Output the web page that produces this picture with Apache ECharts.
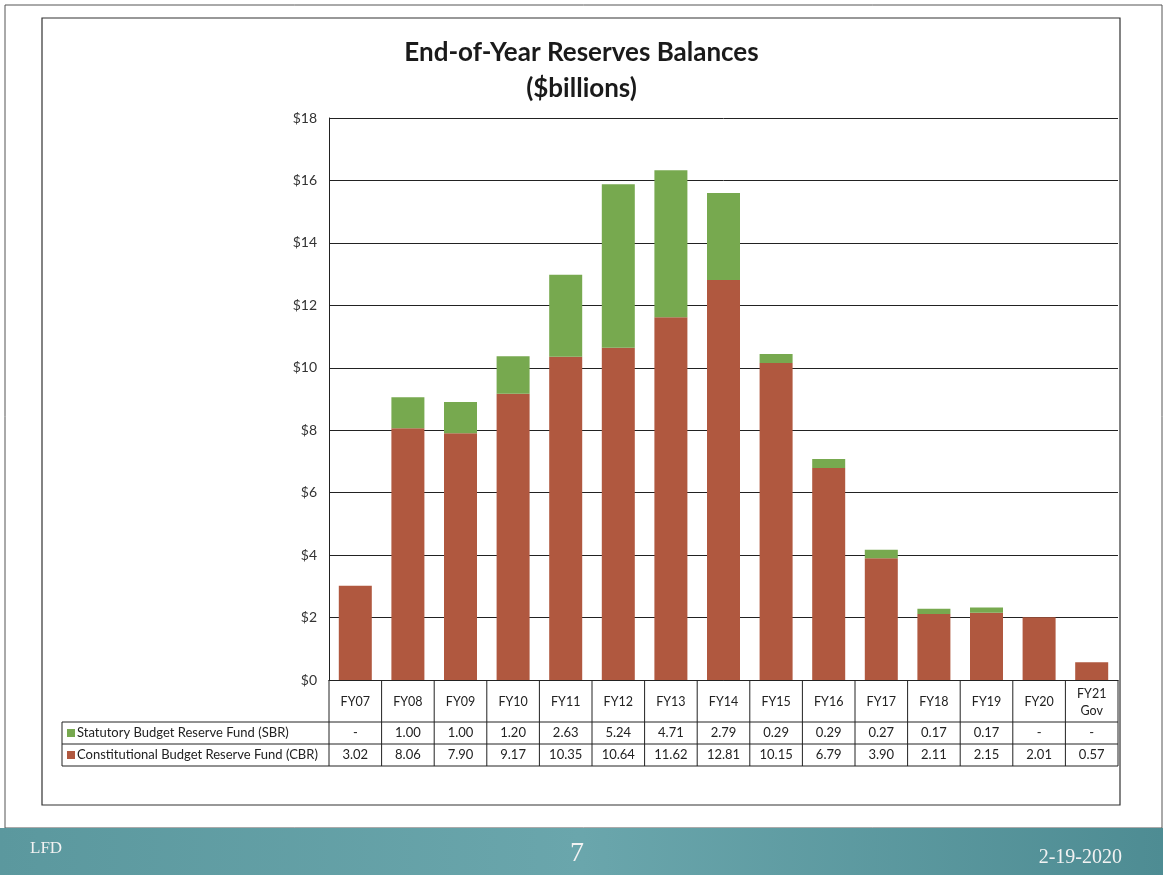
<!DOCTYPE html>
<html>
<head>
<meta charset="utf-8">
<script src="https://cdn.jsdelivr.net/npm/echarts@6/dist/echarts.min.js"></script>
<style>
html,body{margin:0;padding:0;background:#fff;}
#main{width:1163px;height:875px;}
</style>
</head>
<body>
<div id="main"></div>
<script>
const categories = ['FY07','FY08','FY09','FY10','FY11','FY12','FY13','FY14','FY15','FY16','FY17','FY18','FY19','FY20','FY21\nGov'];
const sbrValues = [null,1.00,1.00,1.20,2.63,5.24,4.71,2.79,0.29,0.29,0.27,0.17,0.17,null,null];
const cbrValues = [3.02,8.06,7.90,9.17,10.35,10.64,11.62,12.81,10.15,6.79,3.90,2.11,2.15,2.01,0.57];
const sbrName = 'Statutory Budget Reserve Fund (SBR)';
const cbrName = 'Constitutional Budget Reserve Fund (CBR)';
const yTicks = [0,2,4,6,8,10,12,14,16,18];

const GREEN = '#77a94f';
const BROWN = '#b0583f';
const FONT = 'Lato, "Open Sans", sans-serif';

const chart = echarts.init(document.getElementById('main'));
const gridLeft = 329, gridRight = 45, gridTop = 118, gridBottom = 195;

chart.setOption({
  animation: false,
  backgroundColor: '#fff',
  title: {
    text: 'End-of-Year Reserves Balances\n($billions)',
    left: 'center', top: 30,
    textStyle: {fontFamily: FONT, fontSize: 26, fontWeight: 'bold', color: '#1a1a1a', lineHeight: 36}
  },
  grid: {left: gridLeft, right: gridRight, top: gridTop, bottom: gridBottom, containLabel: false},
  xAxis: {
    type: 'category', data: categories,
    axisLine: {show: true, lineStyle: {color: '#222', width: 1}},
    axisTick: {show: false},
    axisLabel: {fontFamily: FONT, fontSize: 12.5, color: '#222', margin: 22, verticalAlign: 'middle', lineHeight: 17}
  },
  yAxis: {
    type: 'value', min: yTicks[0], max: yTicks[yTicks.length-1], interval: 2,
    axisLine: {show: true, lineStyle: {color: '#222', width: 1}},
    axisTick: {show: false},
    splitLine: {lineStyle: {color: '#222', width: 1}},
    axisLabel: {fontFamily: FONT, fontSize: 14, color: '#333', margin: 12, formatter: v => '$' + v}
  },
  series: [
    {name: cbrName, type: 'bar', stack: 'r', data: cbrValues, barWidth: 33, itemStyle: {color: BROWN}},
    {name: sbrName, type: 'bar', stack: 'r', data: sbrValues.map(v => v == null ? 0 : v), barWidth: 33, itemStyle: {color: GREEN}}
  ]
});

function buildGraphics() {
  const g = [];
  g.push({type: 'rect', shape: {x: 5, y: 5, width: 1157, height: 823}, style: {fill: 'none', stroke: '#555', lineWidth: 1}, z: -10});
  g.push({type: 'rect', shape: {x: 42, y: 18, width: 1078, height: 787}, style: {fill: 'none', stroke: '#333', lineWidth: 1.2}, z: -5});
  g.push({type: 'rect', shape: {x: 0, y: 828, width: 1163, height: 47},
    style: {fill: new echarts.graphic.LinearGradient(0, 0, 1, 0, [{offset: 0, color: '#5b989e'}, {offset: 0.5, color: '#6aa6ac'}, {offset: 1, color: '#4e8c93'}])}});
  g.push({type: 'text', x: 30, y: 849, style: {text: 'LFD', font: '17px "Liberation Serif", serif', fill: '#f2f2f2', verticalAlign: 'middle'}});
  g.push({type: 'text', x: 577, y: 854, style: {text: '7', font: '28px "Liberation Serif", serif', fill: '#f2f2f2', align: 'center', verticalAlign: 'middle'}});
  g.push({type: 'text', x: 1122, y: 858, style: {text: '2-19-2020', font: '20px "Liberation Serif", serif', fill: '#f2f2f2', align: 'right', verticalAlign: 'middle'}});

  const y0 = chart.convertToPixel({yAxisIndex: 0}, 0);
  const plotL = gridLeft, plotR = 1163 - gridRight;
  const n = categories.length;
  const colW = (plotR - plotL) / n;
  const rowH = 722, rowS = 744, rowE = 766, legL = 62;
  const ls = {stroke: '#222', lineWidth: 1};
  g.push({type: 'line', shape: {x1: legL, y1: rowH, x2: plotR, y2: rowH}, style: ls});
  g.push({type: 'line', shape: {x1: legL, y1: rowS, x2: plotR, y2: rowS}, style: ls});
  g.push({type: 'line', shape: {x1: legL, y1: rowE, x2: plotR, y2: rowE}, style: ls});
  g.push({type: 'line', shape: {x1: legL, y1: rowH, x2: legL, y2: rowE}, style: ls});
  for (let i = 0; i <= n; i++) {
    const x = plotL + i * colW;
    g.push({type: 'line', shape: {x1: x, y1: y0, x2: x, y2: rowE}, style: ls});
  }
  g.push({type: 'rect', shape: {x: 67, y: (rowH + rowS) / 2 - 4, width: 8, height: 8}, style: {fill: GREEN}});
  g.push({type: 'text', x: 77, y: (rowH + rowS) / 2, style: {text: sbrName, font: '13px ' + FONT, fill: '#222', verticalAlign: 'middle'}});
  g.push({type: 'rect', shape: {x: 67, y: (rowS + rowE) / 2 - 4, width: 8, height: 8}, style: {fill: BROWN}});
  g.push({type: 'text', x: 77, y: (rowS + rowE) / 2, style: {text: cbrName, font: '13px ' + FONT, fill: '#222', verticalAlign: 'middle'}});
  for (let i = 0; i < n; i++) {
    const cx = chart.convertToPixel({xAxisIndex: 0}, i);
    const s = sbrValues[i], c = cbrValues[i];
    g.push({type: 'text', x: cx, y: (rowH + rowS) / 2, style: {text: s == null ? '-' : s.toFixed(2), font: '13px ' + FONT, fill: '#222', align: 'center', verticalAlign: 'middle'}});
    g.push({type: 'text', x: cx, y: (rowS + rowE) / 2, style: {text: c == null ? '-' : c.toFixed(2), font: '13px ' + FONT, fill: '#222', align: 'center', verticalAlign: 'middle'}});
  }
  chart.setOption({graphic: g});
}
buildGraphics();
</script>
</body>
</html>
